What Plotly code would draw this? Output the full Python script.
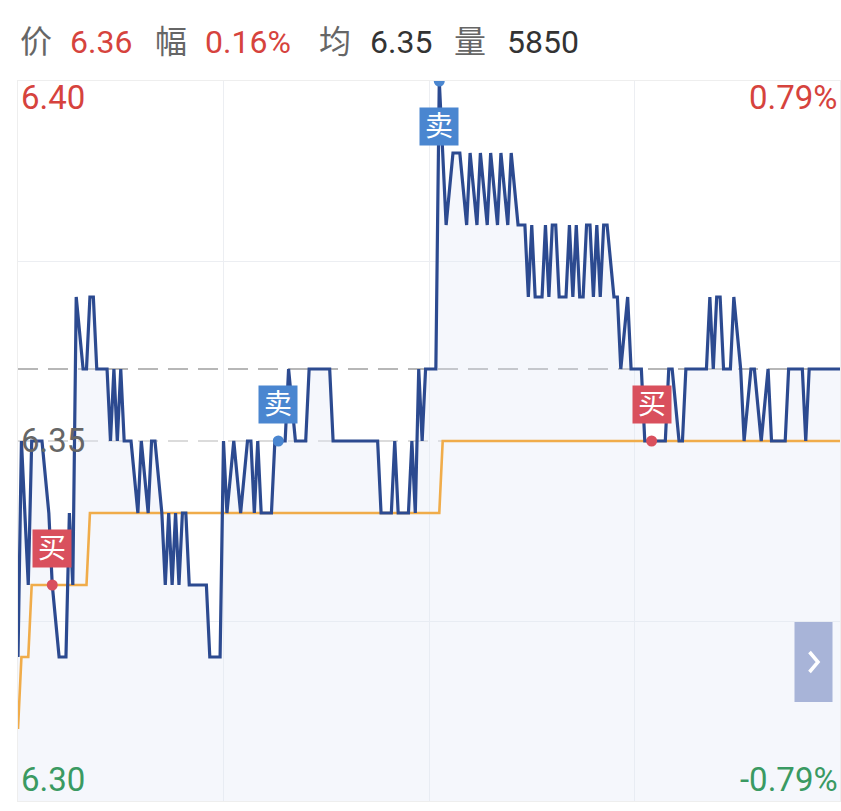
import plotly.graph_objects as go

# ---------------- data ----------------
# minute index (0..240) of each vertex of the price line, and price
price_t = [0, 1, 3, 4, 7, 9, 10, 12, 14, 15, 16, 17, 19, 20, 21, 22, 23, 26, 27, 28,
           29, 30, 31, 33, 35, 36, 38, 39, 40, 42, 43, 44, 45, 46, 47, 48, 49, 50, 55, 56,
           59, 60, 61, 63, 65, 67, 68, 69, 70, 71, 74, 75, 76, 78, 79, 81, 84, 85, 91, 92,
           105, 106, 109, 110, 111, 114, 115, 116, 117, 118, 119, 122, 123, 125, 127, 129, 131, 132, 134, 135,
           137, 138, 140, 141, 143, 144, 146, 148, 149, 150, 151, 153, 154, 155, 156, 157, 158, 160, 161, 162,
           163, 164, 165, 166, 167, 168, 169, 170, 171, 172, 174, 175, 176, 178, 179, 182, 183, 189, 190, 191,
           193, 194, 195, 201, 202, 203, 204, 205, 206, 208, 209, 211, 212, 214, 215, 217, 219, 220, 224, 225,
           229, 230, 231, 240]
price_p = [6.32, 6.35, 6.33, 6.35, 6.35, 6.34, 6.33, 6.32, 6.32, 6.34, 6.33, 6.37, 6.36, 6.36, 6.37, 6.37, 6.36, 6.36, 6.35, 6.36,
           6.35, 6.36, 6.35, 6.35, 6.34, 6.35, 6.34, 6.35, 6.35, 6.34, 6.33, 6.34, 6.33, 6.34, 6.33, 6.34, 6.34, 6.33, 6.33, 6.32,
           6.32, 6.35, 6.34, 6.35, 6.34, 6.35, 6.35, 6.34, 6.35, 6.34, 6.34, 6.35, 6.35, 6.35, 6.36, 6.35, 6.35, 6.36, 6.36, 6.35,
           6.35, 6.34, 6.34, 6.35, 6.34, 6.34, 6.35, 6.34, 6.36, 6.35, 6.36, 6.36, 6.40, 6.38, 6.39, 6.39, 6.38, 6.39, 6.38, 6.39,
           6.38, 6.39, 6.38, 6.39, 6.38, 6.39, 6.38, 6.38, 6.37, 6.38, 6.37, 6.37, 6.38, 6.37, 6.38, 6.38, 6.37, 6.37, 6.38, 6.37,
           6.38, 6.37, 6.37, 6.38, 6.38, 6.37, 6.38, 6.37, 6.38, 6.38, 6.37, 6.37, 6.36, 6.37, 6.36, 6.36, 6.35, 6.35, 6.36, 6.36,
           6.35, 6.35, 6.36, 6.36, 6.37, 6.36, 6.37, 6.37, 6.36, 6.36, 6.37, 6.36, 6.35, 6.36, 6.36, 6.35, 6.36, 6.35, 6.35, 6.36,
           6.36, 6.35, 6.36, 6.36]

avg_t = [0, 1, 3, 4, 20, 21, 123, 124, 240]
avg_p = [6.31, 6.32, 6.32, 6.33, 6.33, 6.34, 6.34, 6.35, 6.35]

buy_t = [10, 185]
buy_p = [6.33, 6.35]
sell_t = [76, 123]
sell_p = [6.35, 6.40]

prev_close = 6.35
last_price = 6.36
y_min, y_max = 6.30, 6.40

header_labels = ["价", "6.36", "幅", "0.16%", "均", "6.35", "量", "5850"]
header_colors = ["#666666", "#d6433d", "#666666", "#d6433d", "#666666", "#333333", "#666666", "#333333"]
header_px = [18, 68, 153, 203, 317, 368, 452, 505]

RED = "#d6433d"
GREEN = "#3a9a62"

# ---------------- layout helpers ----------------
W, H = 841, 811
L, R, T, B = 18, 1, 81, 10
PW, PH = W - L - R, H - T - B


def px2x(px):
    return (px - L) / PW


def py2y(py):
    return (H - B - py) / PH


FONT = "Roboto, Noto Sans CJK SC, sans-serif"

fig = go.Figure()

# area fill under price
fig.add_trace(go.Scatter(x=price_t, y=price_p, mode="lines", line=dict(width=0),
                         fill="tozeroy", fillcolor="rgba(225,231,246,0.34)",
                         hoverinfo="skip", showlegend=False))
# average line
fig.add_trace(go.Scatter(x=avg_t, y=avg_p, mode="lines",
                         line=dict(color="#f0ac4a", width=2.6), showlegend=False))
# price line
fig.add_trace(go.Scatter(x=price_t, y=price_p, mode="lines",
                         line=dict(color="#2c4a90", width=3.2), showlegend=False))
# buy / sell dots
fig.add_trace(go.Scatter(x=buy_t, y=buy_p, mode="markers",
                         marker=dict(color="#d9505d", size=11), showlegend=False))
fig.add_trace(go.Scatter(x=sell_t, y=sell_p, mode="markers",
                         marker=dict(color="#4a86d0", size=11), showlegend=False))

annotations = []
# buy/sell boxes
for t, p in zip(buy_t, buy_p):
    annotations.append(dict(x=t, y=p, xref="x", yref="y", text="买", showarrow=False,
                            font=dict(family=FONT, size=28, color="white"),
                            bgcolor="#d9505d", width=38, height=37, borderpad=0,
                            yshift=37))
for t, p in zip(sell_t, sell_p):
    shift = -45 if p >= y_max else 37
    annotations.append(dict(x=t, y=p, xref="x", yref="y", text="卖", showarrow=False,
                            font=dict(family=FONT, size=28, color="white"),
                            bgcolor="#4a86d0", width=38, height=37, borderpad=0,
                            yshift=shift))

# header
for txt, col, px in zip(header_labels, header_colors, header_px):
    annotations.append(dict(x=px2x(px), y=py2y(42), xref="paper", yref="paper", text=txt,
                            showarrow=False, xanchor="left", yanchor="middle",
                            font=dict(family=FONT, size=32, color=col)))

# axis labels
pct = (y_max - prev_close) / prev_close * 100
axis_labels = [
    (f"{y_max:.2f}", px2x(19), py2y(97), "left", RED),
    (f"{prev_close:.2f}", px2x(19), py2y(440), "left", "#666666"),
    (f"{y_min:.2f}", px2x(19), py2y(779), "left", GREEN),
    (f"{pct:.2f}%", px2x(840), py2y(97), "right", RED),
    (f"-{pct:.2f}%", px2x(840), py2y(779), "right", GREEN),
]
for txt, x, y, anc, col in axis_labels:
    annotations.append(dict(x=x, y=y, xref="paper", yref="paper", text=txt, showarrow=False,
                            xanchor=anc, yanchor="middle",
                            font=dict(family=FONT, size=33, color=col)))

# next button chevron (icon path)
chev = "M {:.5f} {:.5f} L {:.5f} {:.5f} L {:.5f} {:.5f}".format(
    px2x(809.5), py2y(652), px2x(818), py2y(662), px2x(809.5), py2y(672))

shapes = [
    dict(type="line", xref="x", yref="y", x0=0, x1=240, y0=last_price, y1=last_price,
         line=dict(color="#a0a0a0", width=1.5, dash="20px,10px"), layer="below"),
    dict(type="line", xref="x", yref="y", x0=0, x1=240, y0=prev_close, y1=prev_close,
         line=dict(color="#cfcfcf", width=1.5, dash="20px,10px"), layer="below"),
    dict(type="rect", xref="paper", yref="paper", x0=px2x(794.5), x1=px2x(832.5),
         y0=py2y(702), y1=py2y(622), fillcolor="#a8b4d8", line=dict(width=0), layer="above"),
    dict(type="path", xref="paper", yref="paper", path=chev,
         line=dict(color="white", width=3.5), layer="above"),
]

fig.update_layout(
    width=W, height=H,
    margin=dict(l=L, r=R, t=T, b=B),
    paper_bgcolor="white", plot_bgcolor="white",
    xaxis=dict(range=[0, 240], tickvals=[60, 120, 180], showticklabels=False,
               showgrid=True, gridcolor="#eceef2", gridwidth=1, zeroline=False,
               showline=True, linecolor="#eeeeee", mirror=True, ticks=""),
    yaxis=dict(range=[y_min, y_max], tickvals=[6.325, 6.375], showticklabels=False,
               showgrid=True, gridcolor="#eceef2", gridwidth=1, zeroline=False,
               showline=True, linecolor="#eeeeee", mirror=True, ticks=""),
    annotations=annotations,
    shapes=shapes,
    showlegend=False,
)

fig.write_html("out.html", config={"displayModeBar": False},
               post_script="document.body.style.margin='0';document.body.style.overflow='hidden';")
